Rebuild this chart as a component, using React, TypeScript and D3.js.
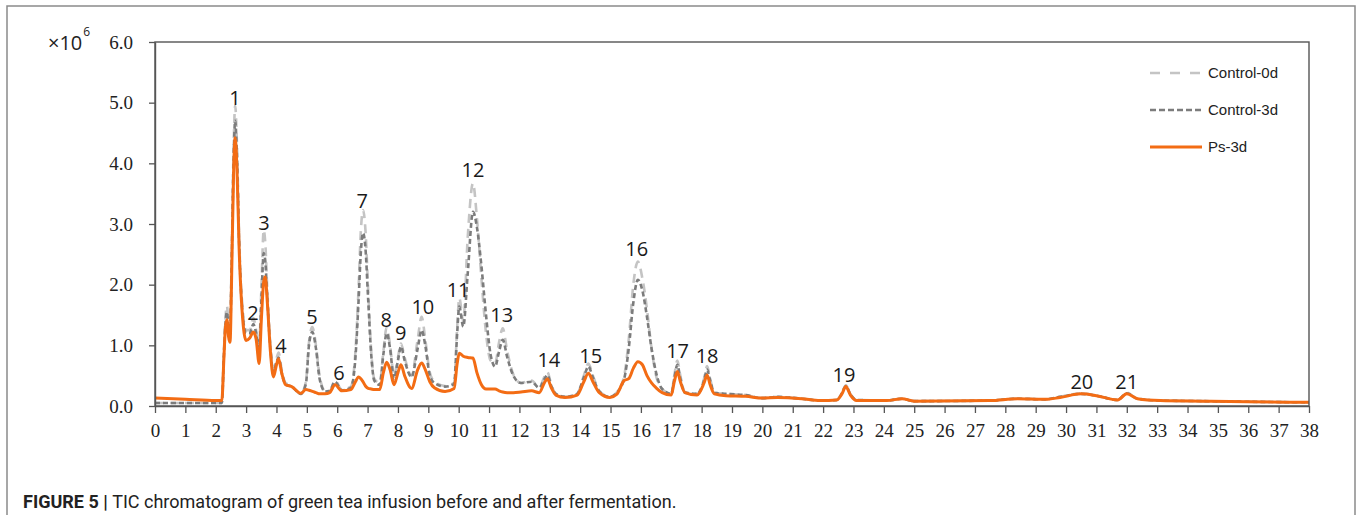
import { useEffect, useRef } from "react";
import * as d3 from "d3";

// retention time (min) and TIC intensity (x10^6)
const rt = [
  0, 1, 2, 2.2, 2.27, 2.32, 2.37, 2.42, 2.47, 2.53,
  2.59, 2.64, 2.7, 2.77, 2.87, 3.0, 3.12, 3.24, 3.33, 3.43,
  3.5, 3.58, 3.63, 3.7, 3.8, 3.9, 4.0, 4.07, 4.17, 4.3,
  4.5, 4.8, 4.97, 5.07, 5.18, 5.3, 5.42, 5.6, 5.75, 5.93,
  6.15, 6.45, 6.6, 6.7, 6.78, 6.85, 6.93, 7.02, 7.12, 7.22,
  7.4, 7.52, 7.63, 7.74, 7.87, 8.0, 8.1, 8.22, 8.45, 8.65,
  8.78, 8.9, 9.05, 9.2, 9.55, 9.85, 9.95, 10.02, 10.15, 10.3,
  10.47, 10.6, 10.75, 10.9, 11.05, 11.2, 11.33, 11.45, 11.6, 11.8,
  12.05, 12.4, 12.65, 12.82, 12.92, 13.05, 13.2, 13.5, 13.9, 14.12,
  14.27, 14.42, 14.63, 14.98, 15.2, 15.45, 15.6, 15.75, 15.9, 16.05,
  16.2, 16.35, 16.5, 16.7, 17.0, 17.1, 17.2, 17.3, 17.45, 17.85,
  18.08, 18.18, 18.28, 18.42, 18.8, 19.45, 20.0, 20.5, 21.3, 21.9,
  22.45, 22.62, 22.75, 22.9, 23.1, 24.1, 24.6, 25.0, 27.5, 28.4,
  29.3, 29.8, 30.5, 31.0, 31.7, 32.0, 32.35, 33.1, 34.5, 36.0, 38.0,
];
const control0d = [
  0.05, 0.05, 0.05, 0.05, 0.9, 1.45, 1.65, 1.35, 1.3, 2.6,
  4.3, 4.95, 4.3, 2.8, 1.7, 1.25, 1.25, 1.45, 1.25, 1.0,
  1.9, 2.9, 2.7, 1.9, 1.0, 0.6, 0.78, 0.88, 0.6, 0.38,
  0.33, 0.2, 0.4, 1.05, 1.3, 1.0, 0.5, 0.25, 0.25, 0.42,
  0.27, 0.32, 0.9, 1.9, 2.9, 3.23, 2.9, 1.9, 0.9, 0.45,
  0.38, 0.9, 1.3, 1.0, 0.5, 0.8, 1.03, 0.8, 0.5, 1.1,
  1.47, 1.1, 0.55, 0.4, 0.33, 0.38, 1.3, 1.78, 1.4, 2.8,
  3.67, 3.1, 2.1, 1.2, 0.75, 0.7, 1.05, 1.28, 0.9, 0.52,
  0.38, 0.42, 0.3, 0.48, 0.56, 0.35, 0.2, 0.15, 0.2, 0.5,
  0.7, 0.5, 0.25, 0.15, 0.22, 0.5, 1.1, 2.0, 2.38, 2.1,
  1.6, 0.95, 0.5, 0.28, 0.2, 0.5, 0.75, 0.5, 0.23, 0.2,
  0.45, 0.66, 0.45, 0.22, 0.2, 0.18, 0.13, 0.15, 0.12, 0.09,
  0.1, 0.22, 0.34, 0.2, 0.1, 0.09, 0.12, 0.08, 0.09, 0.12,
  0.11, 0.15, 0.21, 0.17, 0.1, 0.22, 0.12, 0.09, 0.08, 0.07, 0.06,
];
const control3d = [
  0.05, 0.05, 0.05, 0.05, 0.85, 1.35, 1.55, 1.3, 1.2, 2.5,
  4.1, 4.7, 4.1, 2.7, 1.6, 1.2, 1.2, 1.35, 1.2, 0.95,
  1.7, 2.52, 2.4, 1.75, 0.95, 0.55, 0.72, 0.8, 0.55, 0.36,
  0.32, 0.2, 0.37, 1.0, 1.22, 0.95, 0.45, 0.24, 0.25, 0.4,
  0.26, 0.3, 0.8, 1.7, 2.55, 2.85, 2.6, 1.75, 0.85, 0.42,
  0.35, 0.85, 1.2, 0.95, 0.45, 0.75, 0.98, 0.75, 0.48, 0.95,
  1.25, 1.0, 0.5, 0.38, 0.32, 0.36, 1.2, 1.64, 1.31, 2.2,
  3.2, 2.95, 2.3, 1.5, 0.85, 0.65, 0.9, 1.09, 0.8, 0.5,
  0.38, 0.4, 0.3, 0.44, 0.51, 0.33, 0.2, 0.15, 0.2, 0.47,
  0.65, 0.47, 0.24, 0.15, 0.22, 0.45, 0.95, 1.7, 2.08, 1.9,
  1.47, 0.95, 0.55, 0.28, 0.2, 0.45, 0.68, 0.45, 0.22, 0.2,
  0.42, 0.6, 0.42, 0.22, 0.2, 0.18, 0.13, 0.15, 0.12, 0.09,
  0.1, 0.21, 0.33, 0.19, 0.1, 0.09, 0.12, 0.08, 0.09, 0.12,
  0.11, 0.15, 0.2, 0.17, 0.1, 0.21, 0.12, 0.09, 0.08, 0.07, 0.06,
];
const ps3d = [
  0.13, 0.11, 0.09, 0.09, 0.8, 1.3, 1.42, 1.15, 1.05, 2.3,
  3.9, 4.42, 3.9, 2.6, 1.55, 1.08, 1.12, 1.22, 1.1, 0.7,
  1.4, 2.05, 2.13, 1.7, 0.9, 0.48, 0.68, 0.78, 0.55, 0.35,
  0.32, 0.21, 0.27, 0.26, 0.24, 0.22, 0.2, 0.2, 0.22, 0.35,
  0.25, 0.27, 0.4, 0.48, 0.45, 0.4, 0.33, 0.29, 0.28, 0.27,
  0.27, 0.55, 0.72, 0.6, 0.35, 0.55, 0.68, 0.5, 0.29, 0.6,
  0.71, 0.6, 0.4, 0.3, 0.24, 0.29, 0.7, 0.87, 0.82, 0.8,
  0.79, 0.55, 0.35, 0.28, 0.28, 0.28, 0.25, 0.23, 0.22, 0.22,
  0.23, 0.25, 0.22, 0.38, 0.45, 0.3, 0.18, 0.14, 0.18, 0.4,
  0.54, 0.4, 0.22, 0.14, 0.19, 0.42, 0.45, 0.62, 0.73, 0.68,
  0.5, 0.38, 0.3, 0.22, 0.18, 0.4, 0.57, 0.4, 0.22, 0.18,
  0.38, 0.51, 0.35, 0.2, 0.17, 0.16, 0.13, 0.14, 0.12, 0.09,
  0.1, 0.2, 0.32, 0.18, 0.09, 0.09, 0.12, 0.08, 0.09, 0.12,
  0.11, 0.14, 0.2, 0.17, 0.1, 0.2, 0.12, 0.09, 0.08, 0.07, 0.06,
];

// peak numbers and where their labels sit (rt, intensity)
const peakNo = ["1", "2", "3", "4", "5", "6", "7", "8", "9", "10", "11", "12", "13", "14", "15", "16", "17", "18", "19", "20", "21"];
const peakRt = [2.63, 3.23, 3.59, 4.15, 5.17, 6.06, 6.82, 7.61, 8.09, 8.82, 9.98, 10.47, 11.42, 12.97, 14.35, 15.86, 17.21, 18.18, 22.69, 30.52, 32.0];
const peakLabelLevel = [4.96, 1.42, 2.9, 0.88, 1.35, 0.43, 3.26, 1.3, 1.09, 1.52, 1.8, 3.77, 1.39, 0.65, 0.71, 2.47, 0.79, 0.71, 0.4, 0.28, 0.28];

const seriesNames = ["Control-0d", "Control-3d", "Ps-3d"];
const yTicks = [0, 1, 2, 3, 4, 5, 6];
const xTicks = d3.range(0, 39);

const App = () => {
  const svgRef = useRef(null);
  useEffect(() => {
    const w = 1357;
    const h = 515;
    const svg = d3.select(svgRef.current).attr("width", w).attr("height", h);
    svg.selectAll("*").remove();

    const x = d3.scaleLinear().domain([0, 38]).range([155, 1309]);
    const y = d3.scaleLinear().domain([0, 6]).range([406, 42]);

    // outer figure frame
    svg.append("rect").attr("x", 7).attr("y", 6).attr("width", 1348).attr("height", 530)
      .attr("fill", "none").attr("stroke", "#8a8a8a").attr("stroke-width", 1.5);

    const styles = [
      { color: "#c4c4c4", dash: "9,6", width: 2.6 },
      { color: "#7c7c7c", dash: "5,3", width: 2.6 },
      { color: "#f36c14", dash: null, width: 3 },
    ];
    const values = [control0d, control3d, ps3d];

    const line = d3.line()
      .x((d) => x(d[0]))
      .y((d) => y(d[1]))
      .curve(d3.curveMonotoneX);

    values.forEach((vals, i) => {
      svg.append("path")
        .datum(rt.map((t, j) => [t, vals[j]]))
        .attr("d", line)
        .attr("fill", "none")
        .attr("stroke", styles[i].color)
        .attr("stroke-width", styles[i].width)
        .attr("stroke-dasharray", styles[i].dash)
        .attr("stroke-linejoin", "round");
    });

    // plot box
    svg.append("rect").attr("x", 155).attr("y", 42).attr("width", 1309 - 155).attr("height", 406 - 42)
      .attr("fill", "none").attr("stroke", "#555").attr("stroke-width", 1.4);

    const xAxis = d3.axisBottom(x).tickValues(xTicks).tickFormat(d3.format("d"))
      .tickSize(7).tickSizeOuter(0).tickPadding(11);
    const gx = svg.append("g").attr("transform", "translate(0,406)").call(xAxis);
    gx.select(".domain").attr("stroke", "#555").attr("stroke-width", 1.4);
    gx.selectAll(".tick line").attr("stroke", "#555").attr("stroke-width", 1.3);
    gx.selectAll("text").attr("fill", "#222").style("font-family", "'Liberation Serif', serif").style("font-size", "19px");

    const yAxis = d3.axisLeft(y).tickValues(yTicks).tickFormat(d3.format(".1f"))
      .tickSize(6).tickSizeOuter(0).tickPadding(16);
    const gy = svg.append("g").attr("transform", "translate(155,0)").call(yAxis);
    gy.select(".domain").attr("stroke", "#555").attr("stroke-width", 1.4);
    gy.selectAll(".tick line").attr("stroke", "#555").attr("stroke-width", 1.3);
    gy.selectAll("text").attr("fill", "#222").style("font-family", "'Liberation Serif', serif").style("font-size", "19px");

    // unit
    const unit = svg.append("text").attr("x", 48).attr("y", 50).attr("fill", "#222")
      .style("font-family", "'Open Sans', sans-serif").style("font-size", "20px");
    unit.append("tspan").text("×10");
    unit.append("tspan").attr("dy", -14).attr("dx", 1).style("font-size", "12px").text("6");

    // peak labels
    svg.append("g").selectAll("text")
      .data(peakNo)
      .join("text")
      .attr("x", (d, i) => x(peakRt[i]))
      .attr("y", (d, i) => y(peakLabelLevel[i]))
      .attr("text-anchor", "middle")
      .attr("fill", "#1a1a1a")
      .style("font-family", "'Open Sans', sans-serif")
      .style("font-size", "20px")
      .text((d) => d);

    // legend
    const lg = svg.append("g");
    seriesNames.forEach((name, i) => {
      const ly = 73 + i * 37;
      lg.append("line").attr("x1", 1150).attr("x2", 1202).attr("y1", ly).attr("y2", ly)
        .attr("stroke", styles[i].color)
        .attr("stroke-width", styles[i].width)
        .attr("stroke-dasharray", i === 0 ? "10,10" : i === 1 ? "6,3" : null);
      lg.append("text").attr("x", 1208).attr("y", ly).attr("dy", "0.35em").attr("fill", "#222")
        .style("font-family", "'Liberation Sans', Arial, sans-serif").style("font-size", "15px")
        .text(name);
    });

    // caption
    const cap = svg.append("text").attr("x", 23).attr("y", 508).attr("fill", "#222")
      .style("font-family", "Roboto, sans-serif").style("font-size", "18px");
    cap.append("tspan").style("font-weight", "bold").text("FIGURE 5 | ");
    cap.append("tspan").text("TIC chromatogram of green tea infusion before and after fermentation.");
  }, []);

  return (
    <div style={{ position: "absolute", left: 0, top: 0 }}>
      <svg ref={svgRef} style={{ display: "block" }}></svg>
    </div>
  );
};

export default App;
